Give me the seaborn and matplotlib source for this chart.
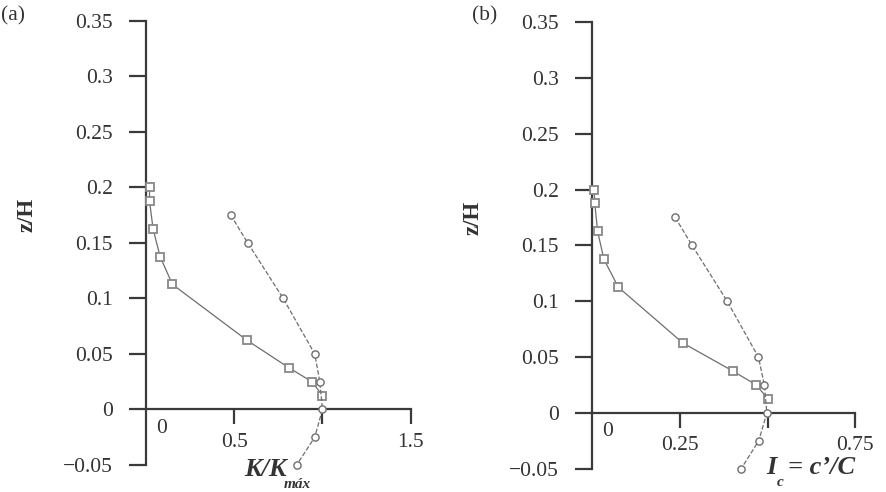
import matplotlib
matplotlib.use('Agg')
import matplotlib.pyplot as plt
import numpy as np
import pandas as pd
import seaborn as sns

sns.set_theme(style='white')
plt.rcParams['font.family'] = ['Liberation Serif', 'DejaVu Serif']

# ---- data ----
z_sq = [0.2, 0.1875, 0.1625, 0.1375, 0.1125, 0.0625, 0.0375, 0.025, 0.0125]
k_sq = [0.02, 0.02, 0.04, 0.08, 0.15, 0.57, 0.81, 0.94, 1.0]
z_ci = [0.175, 0.15, 0.1, 0.05, 0.025, 0.0, -0.025, -0.05]
k_ci = [0.48, 0.576, 0.777, 0.956, 0.985, 1.0, 0.956, 0.854]
ic_sq = [0.006, 0.008, 0.016, 0.034, 0.075, 0.259, 0.401, 0.468, 0.501]
ic_ci = [0.237, 0.285, 0.385, 0.474, 0.491, 0.498, 0.475, 0.425]

yticks = [-0.05, 0.0, 0.05, 0.1, 0.15, 0.2, 0.25, 0.3, 0.35]
ytick_labels = ['\u22120.05', '0', '0.05', '0.1', '0.15', '0.2', '0.25', '0.3', '0.35']
xticks_a = [0.5, 1.0, 1.5]
xtick_labels_a = ['0.5', '', '1.5']
xticks_b = [0.25, 0.5, 0.75]
xtick_labels_b = ['0.25', '', '0.75']

W, H = 887, 492
fig = plt.figure(figsize=(W / 100, H / 100), dpi=100)
fig.patch.set_facecolor('white')

DARK = '#3a3a3a'
GRAY = '#6e6e6e'
TXT = '#333333'


def make_axes(left_px, top_px, bottom_px, right_px):
    return fig.add_axes([left_px / W, 1 - bottom_px / H,
                         (right_px - left_px) / W, (bottom_px - top_px) / H])


def style(ax, xmax, xticks, xlabels):
    ax.set_facecolor('white')
    ax.set_xlim(0, xmax)
    ax.set_ylim(-0.05, 0.35)
    for s in ['top', 'right']:
        ax.spines[s].set_visible(False)
    ax.spines['bottom'].set_position(('data', 0))
    for s in ['left', 'bottom']:
        ax.spines[s].set_color(DARK)
        ax.spines[s].set_linewidth(1.6)
    ax.set_yticks(yticks)
    ax.set_yticklabels(ytick_labels)
    ax.set_xticks(xticks)
    ax.set_xticklabels(xlabels)
    ax.tick_params(axis='y', direction='out', length=12, width=1.6, color=DARK,
                   labelsize=15.5, labelcolor=TXT, pad=12, left=True)
    ax.tick_params(axis='x', direction='out', length=11, width=1.6, color=DARK,
                   labelsize=15.5, labelcolor=TXT, pad=6, bottom=True)
    ax.set_xlabel('')
    ax.set_ylabel('z/H', fontsize=16.5, fontweight='bold', color=TXT)
    ax.annotate('0', xy=(0, 0), xycoords='data', xytext=(16, -19),
                textcoords='offset pixels', ha='center', va='center',
                fontsize=15.5, color=TXT)


def draw(ax, xs_sq, xs_ci):
    df_sq = pd.DataFrame({'x': xs_sq, 'z': z_sq})
    df_ci = pd.DataFrame({'x': xs_ci, 'z': z_ci})
    sns.lineplot(data=df_sq, x='x', y='z', sort=False, estimator=None, ax=ax,
                 color=GRAY, lw=0.9, marker='s', markersize=6.2,
                 markerfacecolor='white', markeredgecolor='#888888',
                 markeredgewidth=1.3, clip_on=False, zorder=5)
    sns.lineplot(data=df_ci, x='x', y='z', sort=False, estimator=None, ax=ax,
                 color=GRAY, lw=0.9, linestyle='--', dashes=(3.5, 3.5), marker='o',
                 markersize=5.2, markerfacecolor='white', markeredgecolor=GRAY,
                 markeredgewidth=1.0, clip_on=False, zorder=5)


# panel (a)
ax1 = make_axes(146, 20.5, 465, 410.7)
draw(ax1, k_sq, k_ci)
style(ax1, 1.5, xticks_a, xtick_labels_a)
ax1.yaxis.set_label_coords((38 - 146) / (410.7 - 146), (465 - 215) / (465 - 20.5))

# panel (b)
ax2 = make_axes(592, 22, 468.7, 855.3)
draw(ax2, ic_sq, ic_ci)
style(ax2, 0.75, xticks_b, xtick_labels_b)
ax2.yaxis.set_label_coords((484 - 592) / (855.3 - 592), (468.7 - 218) / (468.7 - 22))

fig.text(13 / W, 1 - 16 / H, '(a)', fontsize=15.5, color=TXT, ha='center', va='center')
fig.text(485 / W, 1 - 16 / H, '(b)', fontsize=15.5, color=TXT, ha='center', va='center')

# x-axis titles (bold italic with small subscripts)
lab = dict(color=TXT, fontweight='bold', fontstyle='italic')
fig.text(287 / W, 1 - 470 / H, 'K/K', fontsize=19, ha='right', va='center', **lab)
fig.text(284 / W, 1 - 484 / H, 'm\u00e1x', fontsize=11, ha='left', va='center', **lab)
fig.text(777 / W, 1 - 468 / H, 'I', fontsize=19, ha='right', va='center', **lab)
fig.text(777 / W, 1 - 483 / H, 'c', fontsize=11, ha='left', va='center', **lab)
fig.text(788 / W, 1 - 468 / H, '= c\u2019/C', fontsize=19, ha='left', va='center', **lab)

fig.savefig('out.png', dpi=100, facecolor='white')
